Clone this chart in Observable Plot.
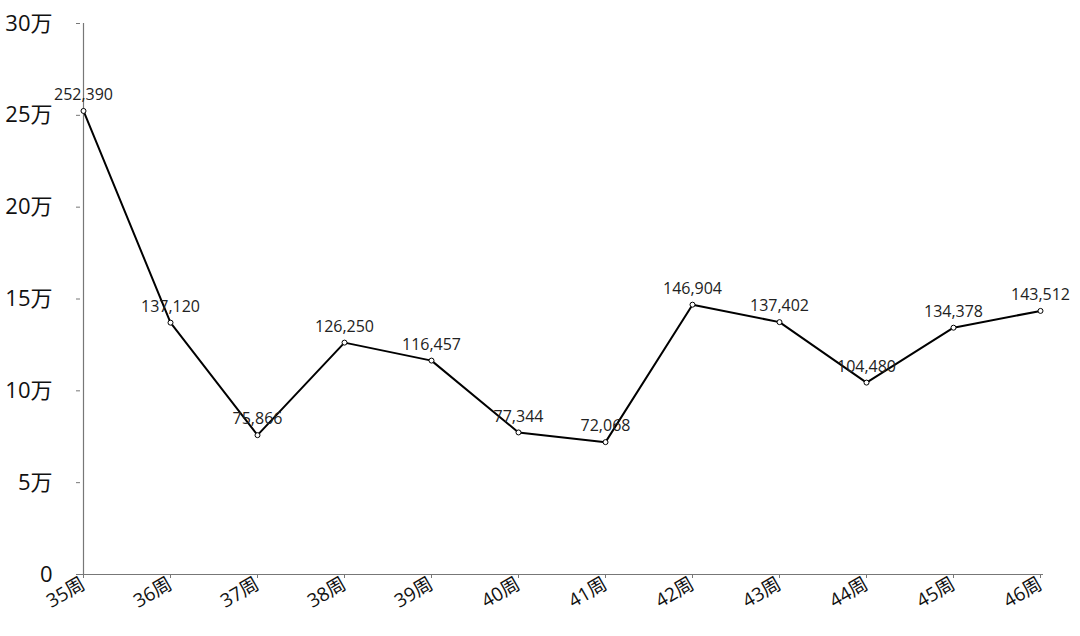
<!DOCTYPE html>
<html><head><meta charset="utf-8">
<script src="https://cdn.jsdelivr.net/npm/d3@7"></script>
<script src="https://cdn.jsdelivr.net/npm/@observablehq/plot@0.6"></script>
<style>
body{margin:0;background:#fff;}
svg{font-family:"Open Sans","Noto Sans CJK SC",sans-serif;}
</style>
</head><body>
<div id="chart"></div>
<script>
const weeks = ["35周","36周","37周","38周","39周","40周","41周","42周","43周","44周","45周","46周"];
const values = [252390,137120,75866,126250,116457,77344,72068,146904,137402,104480,134378,143512];
const yTicks = [0,50000,100000,150000,200000,250000,300000];
const yTickLabels = ["0","5万","10万","15万","20万","25万","30万"];

const data = weeks.map((w,i)=>({week:w, value:values[i]}));
const fmt = d3.format(",");

const chart = Plot.plot({
  width:1080, height:636,
  marginLeft:80, marginRight:37, marginTop:23, marginBottom:62,
  style:{background:"#fff", color:"#222"},
  x:{type:"point", domain:weeks, padding:0, range:[80,1043], label:null},
  y:{domain:[0,300000], range:[574,23], label:null},
  marks:[
    Plot.axisY({ticks:yTicks, tickFormat:(d)=>yTickLabels[yTicks.indexOf(d)], tickSize:4, tickPadding:24, fontSize:22, stroke:"#777", fill:"#111"}),
    Plot.axisX({tickSize:4, tickPadding:4, tickRotate:-30, fontSize:19, stroke:"#777", fill:"#111"}),
    Plot.ruleY([0],{stroke:"#777", strokeWidth:1.2}),
    Plot.ruleX([weeks[0]],{y1:0, y2:300000, stroke:"#777", strokeWidth:1.2}),
    Plot.line(data,{x:"week", y:"value", stroke:"#000", strokeWidth:2}),
    Plot.dot(data,{x:"week", y:"value", r:2.5, fill:"#fff", stroke:"#000", strokeWidth:1}),
    Plot.text(data,{x:"week", y:"value", text:d=>fmt(d.value), dy:-16, fontSize:16, fill:"#222"})
  ]
});
document.getElementById("chart").appendChild(chart);
</script>
</body></html>
